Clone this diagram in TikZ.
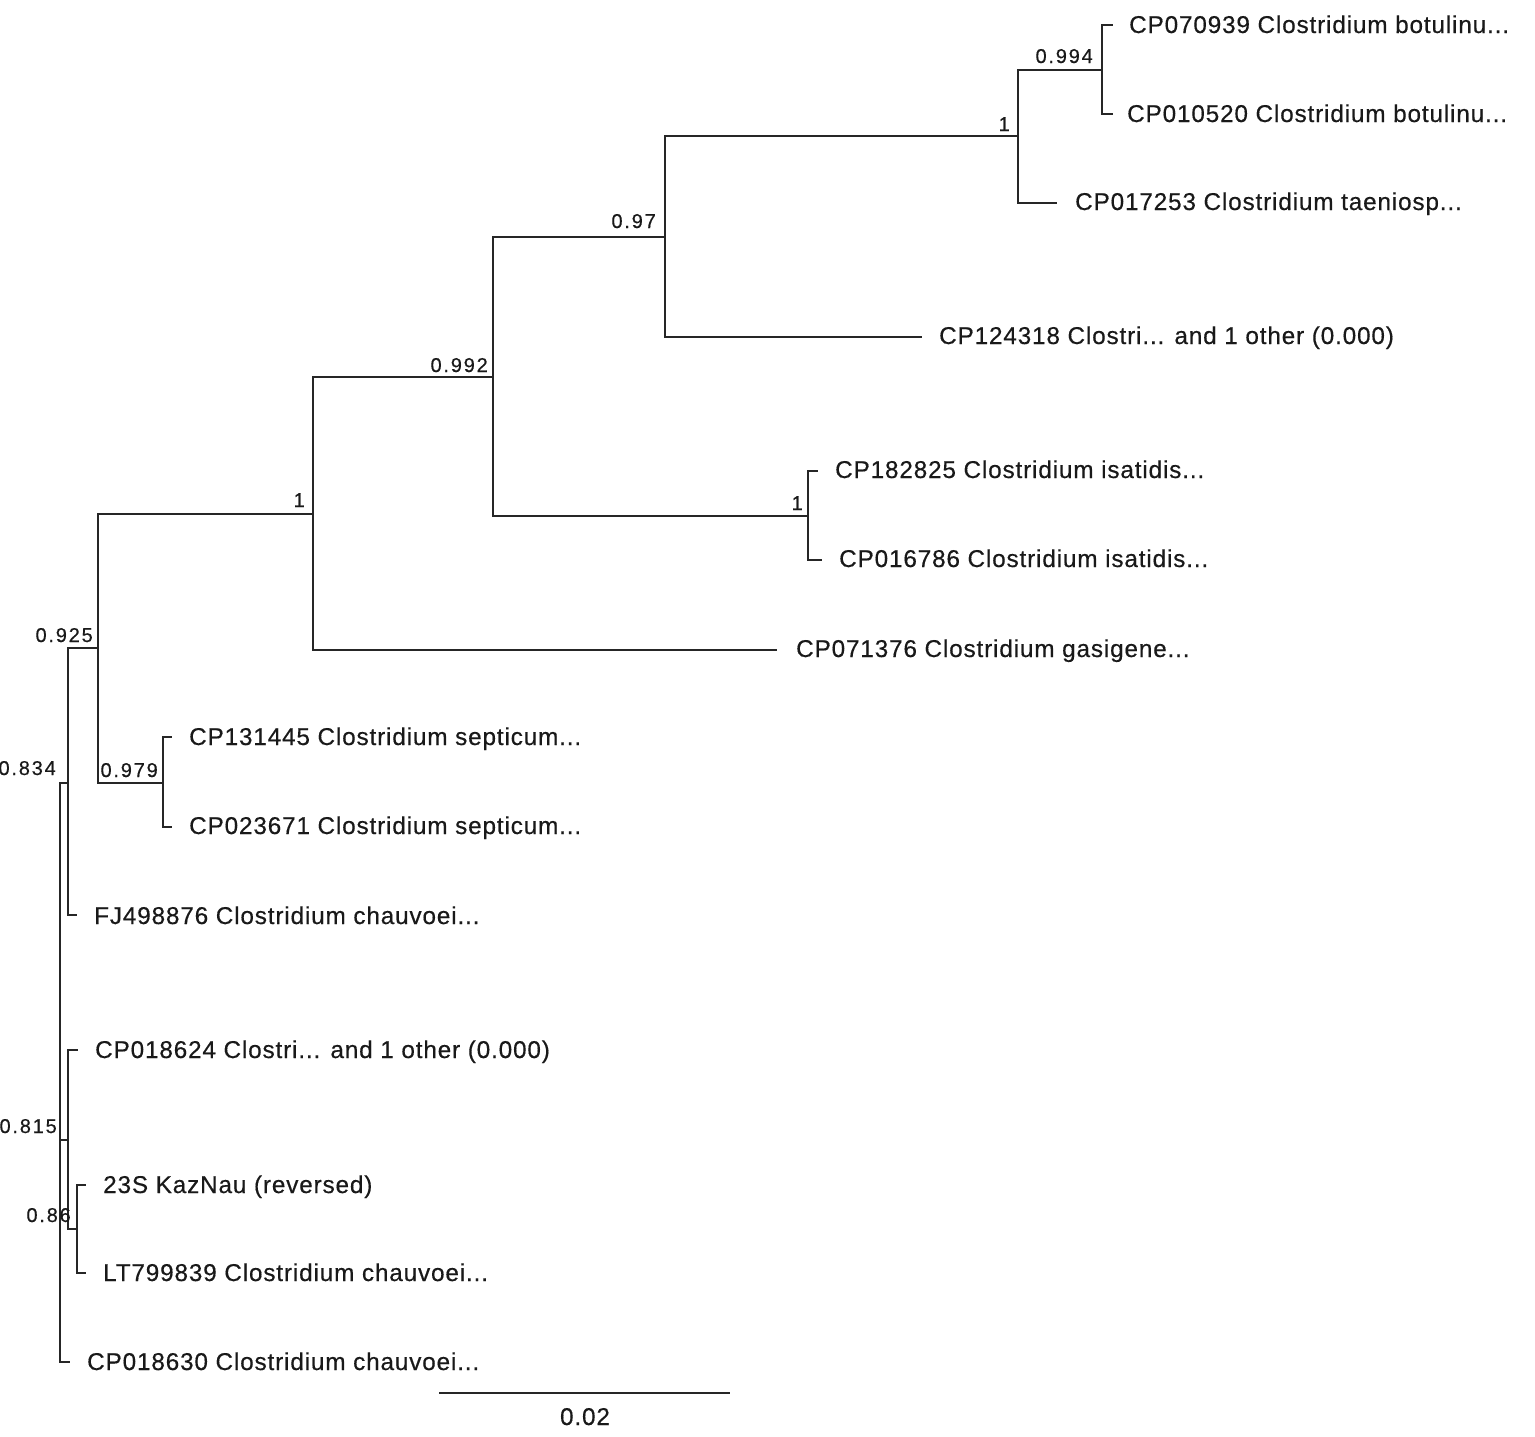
\documentclass[tikz,border=0pt]{standalone}
\usepackage{fontspec}
\setmainfont{Liberation Sans}
\newfontfamily\leaffont[LetterSpace=3.5,FakeBold=0.4]{Liberation Sans}
\newfontfamily\supfont[LetterSpace=9,FakeBold=0.4]{Liberation Sans}
\begin{document}
\begin{tikzpicture}[x=1pt,y=-1pt,
  branch/.style={draw=black!85, line width=2.2pt},
  leaflabel/.style={anchor=base west, inner sep=0pt, text=black!90, font=\leaffont\fontsize{24.3}{28}\selectfont},
  suplabel/.style={anchor=base east, inner sep=0pt, text=black!90, font=\supfont\fontsize{20}{22}\selectfont},
  scalelabel/.style={anchor=base, inner sep=0pt, text=black!90, font=\leaffont\fontsize{24.3}{28}\selectfont}]
\useasboundingbox[fill=white] (0,0) rectangle (1535,1436);

% internal nodes
\coordinate (root) at (60,1140);
\coordinate (n834) at (68,783);
\coordinate (n925) at (98,648);
\coordinate (n979) at (163,783);
\coordinate (n1c) at (313,514);
\coordinate (n992) at (493,377);
\coordinate (n97) at (665,237);
\coordinate (n1a) at (1018,136);
\coordinate (n994) at (1102,70);
\coordinate (n1b) at (808,516);
\coordinate (n815) at (68,1140);
\coordinate (n86) at (77,1229);

% leaf ends
\coordinate (lA) at (1113,25);
\coordinate (lB) at (1113,114);
\coordinate (lC) at (1057,203);
\coordinate (lD) at (922,337);
\coordinate (lE) at (818,471);
\coordinate (lF) at (822,560);
\coordinate (lG) at (777,650);
\coordinate (lH) at (172,737);
\coordinate (lI) at (172,827);
\coordinate (lJ) at (77,915);
\coordinate (lK) at (78,1050);
\coordinate (lL) at (86,1185);
\coordinate (lM) at (86,1273);
\coordinate (lN) at (70,1362);

% branches
\draw[branch] (root) |- (n834);
\draw[branch] (root) |- (n815);
\draw[branch] (root) |- (lN);
\draw[branch] (n834) |- (n925);
\draw[branch] (n834) |- (lJ);
\draw[branch] (n925) |- (n1c);
\draw[branch] (n925) |- (n979);
\draw[branch] (n979) |- (lH);
\draw[branch] (n979) |- (lI);
\draw[branch] (n1c) |- (n992);
\draw[branch] (n1c) |- (lG);
\draw[branch] (n992) |- (n97);
\draw[branch] (n992) |- (n1b);
\draw[branch] (n97) |- (n1a);
\draw[branch] (n97) |- (lD);
\draw[branch] (n1a) |- (n994);
\draw[branch] (n1a) |- (lC);
\draw[branch] (n994) |- (lA);
\draw[branch] (n994) |- (lB);
\draw[branch] (n1b) |- (lE);
\draw[branch] (n1b) |- (lF);
\draw[branch] (n815) |- (lK);
\draw[branch] (n815) |- (n86);
\draw[branch] (n86) |- (lL);
\draw[branch] (n86) |- (lM);

% leaf labels
\node[leaflabel] (tA) at (1129,33) {CP070939 Clostridium botulinu...};
\node[leaflabel] (tB) at (1127,122) {CP010520 Clostridium botulinu...};
\node[leaflabel] (tC) at (1075,210) {CP017253 Clostridium taeniosp...};
\node[leaflabel] (tD) at (939,344) {CP124318 Clostri... and 1 other (0.000)};
\node[leaflabel] (tE) at (835,478) {CP182825 Clostridium isatidis...};
\node[leaflabel] (tF) at (839,567) {CP016786 Clostridium isatidis...};
\node[leaflabel] (tG) at (796,657) {CP071376 Clostridium gasigene...};
\node[leaflabel] (tH) at (189,745) {CP131445 Clostridium septicum...};
\node[leaflabel] (tI) at (189,834) {CP023671 Clostridium septicum...};
\node[leaflabel] (tJ) at (94,924) {FJ498876 Clostridium chauvoei...};
\node[leaflabel] (tK) at (95,1058) {CP018624 Clostri... and 1 other (0.000)};
\node[leaflabel] (tL) at (103,1193) {23S KazNau (reversed)};
\node[leaflabel] (tM) at (103,1281) {LT799839 Clostridium chauvoei...};
\node[leaflabel] (tN) at (87,1370) {CP018630 Clostridium chauvoei...};

% support values
\node[suplabel] (s994) at (1093,63) {0.994};
\node[suplabel] (s1a) at (1010,131) {1};
\node[suplabel] (s97) at (656,228) {0.97};
\node[suplabel] (s992) at (488,372) {0.992};
\node[suplabel] (s1b) at (803,510) {1};
\node[suplabel] (s1c) at (305,507) {1};
\node[suplabel] (s925) at (93,642) {0.925};
\node[suplabel] (s979) at (158,777) {0.979};
\node[suplabel] (s834) at (56,775) {0.834};
\node[suplabel] (s815) at (57,1133) {0.815};
\node[suplabel] (s86) at (71,1222) {0.86};

% scale bar
\coordinate (sbL) at (439,1393);
\coordinate (sbR) at (730,1393);
\draw[branch] (sbL) -- (sbR);
\node[scalelabel] (sbT) at (585,1425) {0.02};
\end{tikzpicture}
\end{document}
